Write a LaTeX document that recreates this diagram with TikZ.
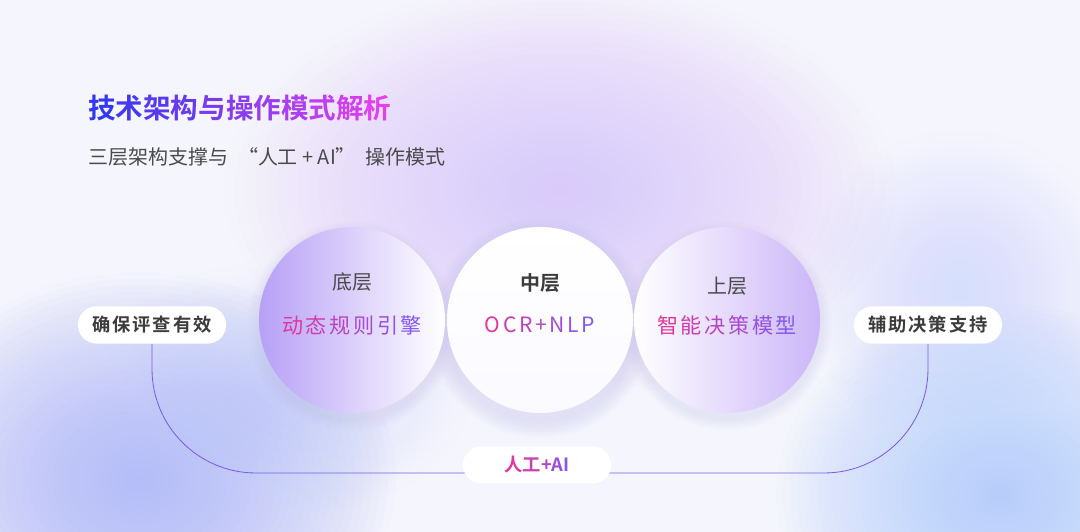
\documentclass[tikz,border=0pt]{standalone}
\usepackage{fontspec}
\setmainfont{Noto Sans CJK SC}[BoldFont={Noto Sans CJK SC Bold}]
\definecolor{bgbase}{HTML}{F5F6FD}
\definecolor{blobpurple}{HTML}{D9BFFA}
\definecolor{blobblue}{HTML}{A2AEF8}
\definecolor{blobsky}{HTML}{A8C8FB}
\definecolor{blobpale}{HTML}{D4E0FC}
\definecolor{tblue}{HTML}{3438EE}
\definecolor{tmag}{HTML}{E23FF0}
\definecolor{gpink}{HTML}{E0369E}
\definecolor{gviolet}{HTML}{8456F2}
\definecolor{subtxt}{HTML}{4A4A4A}
\definecolor{pilltxt}{HTML}{3C3C3C}
\definecolor{linkc}{HTML}{7B5CE6}
\definecolor{leftc}{HTML}{B7A0F6}
\definecolor{rightc}{HTML}{CBB6F8}
\definecolor{shadowc}{HTML}{C4BFF0}
\newcommand{\tmix}[2]{{\color{tmag!#1!tblue}#2}}
\newcommand{\hmix}[2]{{\color{gviolet!#1!gpink}#2}}
\newcommand{\gmix}[2]{{\color{gviolet!#1!gpink}#2}\kern0.125em}
\pgfdeclarelayer{back}
\pgfdeclarelayer{wire}
\pgfsetlayers{back,wire,main}
\tikzset{
  pill/.style={fill=white, rounded corners=0.46cm, minimum width=3.7cm, minimum height=0.93cm,
    inner sep=0pt, text=pilltxt, font=\fontsize{13}{13}\selectfont\bfseries\addfontfeature{LetterSpace=10}},
  tier/.style={circle, minimum size=4.65cm, inner sep=0pt},
  tiername/.style={font=\fontsize{14.2}{15}\selectfont, text=subtxt},
  tiertext/.style={font=\fontsize{15}{16}\selectfont},
  link/.style={draw=linkc, line width=0.6pt, rounded corners=2.6cm},
}

\begin{document}
\begin{tikzpicture}[x=0.025cm, y=-0.025cm]
  \useasboundingbox (0,0) rectangle (1080,532);
  % background blobs
  \begin{pgfonlayer}{back}
    \fill[bgbase] (0,0) rectangle (1080,532);
    \begin{scope}
      \clip (0,0) rectangle (1080,532);
      \foreach \k in {1,...,32} {
        \fill[blobpurple, opacity=0.03] (560,190) ellipse ({\k*10.5} and {\k*6.5});
        \fill[blobblue, opacity=0.035] (140,480) ellipse ({\k*8} and {\k*6.5});
        \fill[blobsky, opacity=0.035] (1000,495) ellipse ({\k*7} and {\k*6});
        \fill[blobpale, opacity=0.025] (960,290) ellipse ({\k*5} and {\k*5});
        \fill[blobpale, opacity=0.025] (280,390) ellipse ({\k*6} and {\k*4});
      }
      % circle shadows
      \foreach \k in {1,...,8} {
        \fill[shadowc, opacity=0.05] (540,328) circle ({93+\k*2.2});
        \fill[shadowc, opacity=0.03] (352,326) circle ({93+\k*1.5});
        \fill[shadowc, opacity=0.03] (727,326) circle ({93+\k*1.5});
      }
    \end{scope}
  \end{pgfonlayer}

  % heading
  \node[anchor=west, inner sep=0pt, font=\fontsize{19.6}{20}\selectfont\bfseries] (title) at (88,108)
    {\tmix{0}{技}\tmix{10}{术}\tmix{20}{架}\tmix{30}{构}\tmix{40}{与}\tmix{50}{操}\tmix{60}{作}\tmix{70}{模}\tmix{80}{式}\tmix{90}{解}\tmix{100}{析}};
  \node[anchor=west, inner sep=0pt, text=subtxt, font=\fontsize{14.2}{15}\selectfont] (subtitle) at (88,157)
    {三层架构支撑与\hspace{0.5em}“人工 + AI”\hspace{0.5em}操作模式};

  % three tiers
  \node[tier, left color=leftc, middle color=leftc!45!white, right color=white] (bottom) at (352,320) {};
  \node[tier, right color=rightc, middle color=rightc!40!white, left color=white] (upper) at (727,320) {};
  \node[tier, top color=white, bottom color=white!94!leftc] (middle) at (540,320) {};

  \node[tiername] (bottomname) at (352,282) {底层};
  \node[tiertext] (bottomtext) at (352,325) {\gmix{0}{动}\gmix{20}{态}\gmix{40}{规}\gmix{60}{则}\gmix{80}{引}\hmix{100}{擎}};
  \node[tiername, font=\fontsize{14.2}{15}\selectfont\bfseries, text=pilltxt] (middlename) at (540,283) {中层};
  \node[tiertext] (middletext) at (540,325) {\gmix{0}{O}\gmix{17}{C}\gmix{33}{R}\gmix{50}{+}\gmix{67}{N}\gmix{83}{L}\hmix{100}{P}};
  \node[tiername] (uppername) at (727,286) {上层};
  \node[tiertext] (uppertext) at (727,325) {\gmix{0}{智}\gmix{20}{能}\gmix{40}{决}\gmix{60}{策}\gmix{80}{模}\hmix{100}{型}};

  % side labels and mode
  \node[pill] (ensure) at (152,325) {确保评查有效};
  \node[pill] (aid) at (928,325) {辅助决策支持};
  \node[pill] (humanai) at (537,465) {\hmix{0}{人}\hmix{25}{工}\hmix{50}{+}\hmix{75}{A}\hmix{100}{I}};
  \coordinate (linkmid) at (537,473);

  \begin{pgfonlayer}{wire}
    \draw[link] (ensure.south) |- (linkmid) -| (aid.south);
  \end{pgfonlayer}
\end{tikzpicture}
\end{document}
